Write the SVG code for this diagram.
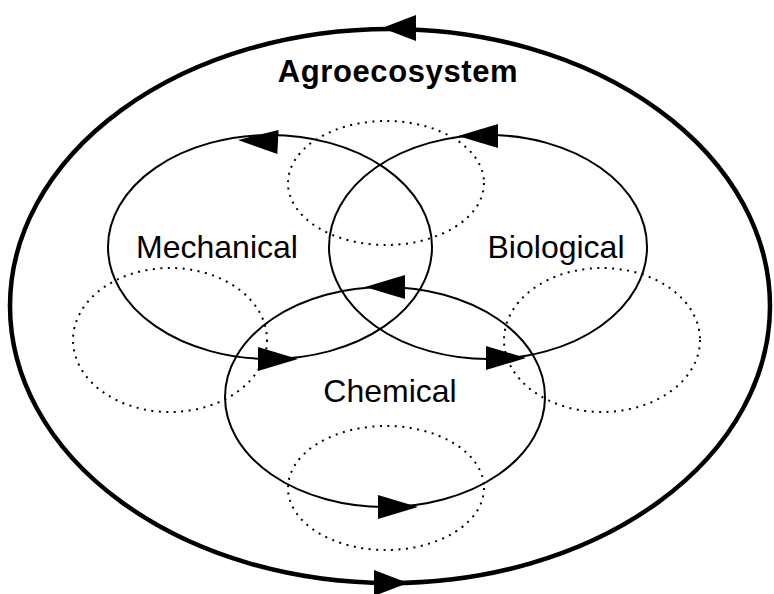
<svg xmlns="http://www.w3.org/2000/svg" width="774" height="594" viewBox="0 0 774 594">
<style>
.solid{fill:none;stroke:#000;stroke-width:2}
.outer{fill:none;stroke:#000;stroke-width:4.5}
.dot{fill:none;stroke:#000;stroke-width:2;stroke-dasharray:2 5.5}
.lbl{font-family:"Liberation Sans",Arial,sans-serif;font-size:32px;fill:#000;text-anchor:middle}
.title{font-family:"Liberation Sans",Arial,sans-serif;font-size:31px;font-weight:bold;fill:#000;text-anchor:middle;letter-spacing:0.6px}
.ah{fill:#000}
</style>
<defs>
<path id="arr" d="M0,0 L-40,-12 L-40,12 Z"/>
<path id="arrBig" d="M0,0 L-34,-13 L-34,13 Z"/>
</defs>
<g id="connectors">
<ellipse class="dot" cx="386" cy="183" rx="98" ry="62"/>
<ellipse class="dot" cx="170" cy="340" rx="97" ry="72"/>
<ellipse class="dot" cx="602" cy="340" rx="98" ry="72"/>
<ellipse class="dot" cx="386" cy="488" rx="98" ry="62"/>
</g>
<g id="agroecosystem">
<ellipse class="outer" cx="390" cy="306" rx="380" ry="277"/>
<use href="#arrBig" class="ah" transform="translate(382,28) rotate(180)"/>
<use href="#arrBig" class="ah" transform="translate(408,583)"/>
<text class="title" x="398" y="82">Agroecosystem</text>
</g>
<g id="mechanical">
<ellipse class="solid" cx="270" cy="247" rx="162" ry="112"/>
<use href="#arr" class="ah" transform="translate(238,140) rotate(183)"/>
<use href="#arr" class="ah" transform="translate(298,359)"/>
<text class="lbl" x="217" y="258">Mechanical</text>
</g>
<g id="biological">
<ellipse class="solid" cx="488" cy="247" rx="159" ry="112"/>
<use href="#arr" class="ah" transform="translate(458,136) rotate(180)"/>
<use href="#arr" class="ah" transform="translate(526,358)"/>
<text class="lbl" x="556" y="258">Biological</text>
</g>
<g id="chemical">
<ellipse class="solid" cx="385" cy="397" rx="160" ry="110"/>
<use href="#arr" class="ah" transform="translate(365,287) rotate(180)"/>
<use href="#arr" class="ah" transform="translate(418,507)"/>
<text class="lbl" x="390" y="402">Chemical</text>
</g>
</svg>
